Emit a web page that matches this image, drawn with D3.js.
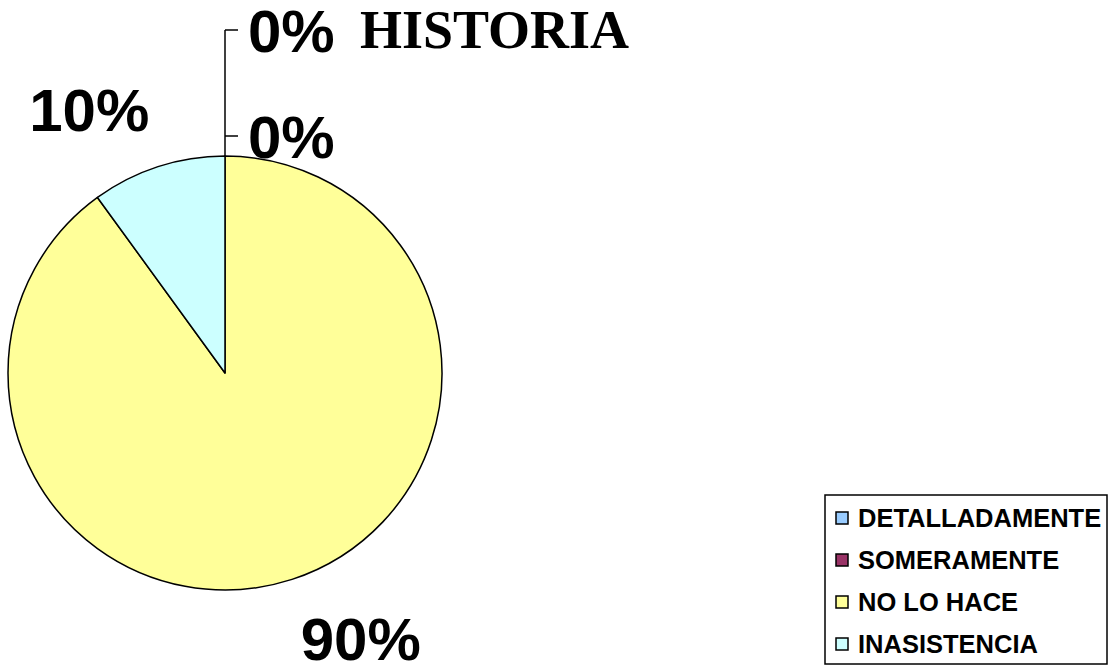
<!DOCTYPE html>
<html>
<head>
<meta charset="utf-8">
<script src="https://cdn.jsdelivr.net/npm/d3@7"></script>
<style>
  body { margin: 0; background: #fff; }
  svg { display: block; }
</style>
</head>
<body>
<svg id="chart" width="1115" height="666"></svg>
<script>
// data
var categories = ["DETALLADAMENTE", "SOMERAMENTE", "NO LO HACE", "INASISTENCIA"];
var values = [0, 0, 90, 10];
var colors = ["#99CCFF", "#993366", "#FFFF99", "#CCFFFF"];
var title = "HISTORIA";

var width = 1115, height = 666;
var cx = 225, cy = 373, radius = 217;

var svg = d3.select("#chart");

var pie = d3.pie().sort(null).value(function(d){ return d.value; });
var arc = d3.arc().innerRadius(0).outerRadius(radius);

var data = categories.map(function(c, i){
	return {name: c, value: values[i], color: colors[i]};
});
var arcs = pie(data);

var plot = svg.append("g").attr("transform", "translate(" + cx + "," + cy + ")");

plot.selectAll("path.slice")
	.data(arcs.filter(function(d){ return d.data.value > 0; }))
	.enter().append("path")
	.attr("class", "slice")
	.attr("d", arc)
	.style("fill", function(d){ return d.data.color; })
	.style("stroke", "#000")
	.style("stroke-width", 1.5)
	.style("stroke-linejoin", "round");

var labelFont = "Liberation Sans, Arial, sans-serif";
var capH = 43;

// labels for non-zero slices, outside the pie
arcs.forEach(function(d){
	if (d.data.value == 0) return;
	var a = (d.startAngle + d.endAngle) / 2;
	var x = Math.sin(a) * (radius + 28);
	var y = -Math.cos(a) * (radius + 40);
	var base = Math.cos(a) > 0 ? y + 2 : y + capH;
	plot.append("text")
		.attr("x", x)
		.attr("y", base)
		.attr("text-anchor", Math.sin(a) >= 0 ? "start" : "end")
		.style("font-family", labelFont)
		.style("font-weight", "bold")
		.style("font-size", "60px")
		.text(d.data.value + "%");
});

// zero slices: stacked labels with leader line
var zeros = arcs.filter(function(d){ return d.data.value == 0; });
var topY = -radius;
var tickYs = zeros.map(function(d, i){ return topY - 20 - (zeros.length - 1 - i) * 106; });
if (zeros.length) {
	var minY = d3.min(tickYs);
	plot.append("line")
		.attr("x1", 0).attr("x2", 0)
		.attr("y1", topY).attr("y2", minY)
		.style("stroke", "#000").style("stroke-width", 1.5);
	zeros.forEach(function(d, i){
		var ty = tickYs[i];
		plot.append("line")
			.attr("x1", 0).attr("x2", 13)
			.attr("y1", ty).attr("y2", ty)
			.style("stroke", "#000").style("stroke-width", 1.5);
		plot.append("text")
			.attr("x", 23)
			.attr("y", ty + capH / 2)
			.style("font-family", labelFont)
			.style("font-weight", "bold")
			.style("font-size", "60px")
			.text(d.data.value + "%");
	});
}

// title
svg.append("text")
	.attr("x", 360)
	.attr("y", 48)
	.style("font-family", "Liberation Serif, 'Times New Roman', serif")
	.style("font-weight", "bold")
	.style("font-size", "54px")
	.text(title);

// legend
var legend = svg.append("g").attr("transform", "translate(825,495)");
legend.append("rect")
	.attr("x", 0).attr("y", 0)
	.attr("width", 282).attr("height", 169)
	.style("fill", "#fff")
	.style("stroke", "#000")
	.style("stroke-width", 1.5);

var items = legend.selectAll("g.item")
	.data(data)
	.enter().append("g")
	.attr("class", "item")
	.attr("transform", function(d, i){ return "translate(0," + (23 + i * 42) + ")"; });

items.append("rect")
	.attr("x", 11).attr("y", -6)
	.attr("width", 12).attr("height", 12)
	.style("fill", function(d){ return d.color; })
	.style("stroke", "#000")
	.style("stroke-width", 1.5);

items.append("text")
	.attr("x", 33)
	.attr("y", 9)
	.style("font-family", labelFont)
	.style("font-weight", "bold")
	.style("font-size", "25.5px")
	.text(function(d){ return d.name; });
</script>
</body>
</html>
